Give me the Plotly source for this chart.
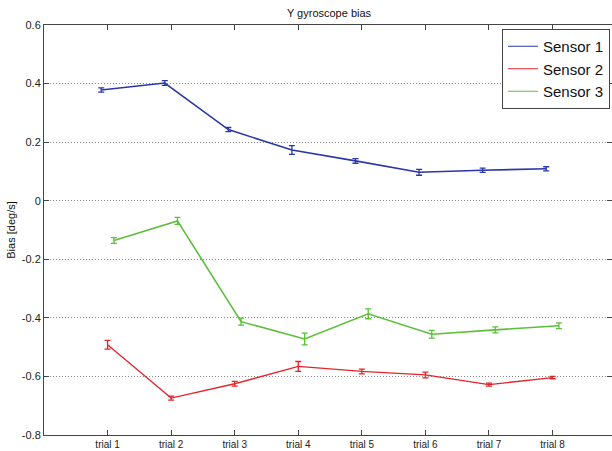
import plotly.graph_objects as go

trials = ["trial 1", "trial 2", "trial 3", "trial 4", "trial 5", "trial 6", "trial 7", "trial 8"]
trial_pos = [1, 2, 3, 4, 5, 6, 7, 8]

sensor1_bias = [0.378, 0.402, 0.243, 0.173, 0.136, 0.097, 0.104, 0.109]
sensor1_err = [0.007, 0.008, 0.007, 0.015, 0.008, 0.010, 0.007, 0.007]

sensor2_bias = [-0.492, -0.674, -0.625, -0.566, -0.583, -0.595, -0.628, -0.604]
sensor2_err = [0.015, 0.007, 0.008, 0.017, 0.008, 0.010, 0.005, 0.004]

sensor3_bias = [-0.136, -0.069, -0.413, -0.472, -0.386, -0.456, -0.441, -0.427]
sensor3_err = [0.010, 0.012, 0.012, 0.020, 0.017, 0.013, 0.010, 0.010]

# small horizontal shift so overlapping error bars stay readable
series = [
    ("Sensor 1", sensor1_bias, sensor1_err, "#2a37a6", -0.1, 1.6),
    ("Sensor 2", sensor2_bias, sensor2_err, "#e3242b", 0.0, 1.3),
    ("Sensor 3", sensor3_bias, sensor3_err, "#5cbf3a", 0.1, 1.6),
]

FONT = "Liberation Sans, Arial, sans-serif"

fig = go.Figure()
for name, vals, errs, color, shift, lw in series:
    fig.add_trace(go.Scatter(
        x=[p + shift for p in trial_pos],
        y=vals,
        mode="lines",
        name=name,
        showlegend=False,
        line=dict(color=color, width=lw),
        error_y=dict(type="data", array=errs, visible=True,
                     color=color, thickness=1.3, width=3),
    ))

# legend entries drawn with thin sample lines
for name, _, _, color, _, _ in series:
    fig.add_trace(go.Scatter(
        x=[None], y=[None], mode="lines", name=name,
        line=dict(color=color, width=1), showlegend=True,
    ))

fig.update_layout(
    width=612, height=451,
    margin=dict(l=44, r=0, t=25, b=16),
    paper_bgcolor="white",
    plot_bgcolor="white",
    font=dict(family=FONT, size=11, color="#222"),
    title=dict(text="Y gyroscope bias", x=329 / 612, xref="container", xanchor="center",
               y=1 - 13.5 / 451, yref="container", yanchor="middle",
               font=dict(family=FONT, size=11, color="#111")),
    showlegend=True,
    legend=dict(x=1 - 2 / 568, xanchor="right", y=1 - 4 / 410, yanchor="top",
                xref="paper", yref="paper",
                bgcolor="white", bordercolor="#444", borderwidth=1,
                font=dict(family=FONT, size=15, color="#111"),
                itemwidth=30, tracegroupgap=0),
)

fig.update_xaxes(
    range=[0, 568 / 63.57],
    tickmode="array", tickvals=trial_pos, ticktext=trials,
    ticks="inside", ticklen=5, tickcolor="#444",
    showline=True, linecolor="#444", linewidth=1, mirror="ticks",
    showgrid=False, zeroline=False,
    tickfont=dict(family=FONT, size=10, color="#222"),
)
fig.update_yaxes(
    range=[-0.8, 0.6],
    tickmode="array",
    tickvals=[-0.8, -0.6, -0.4, -0.2, 0, 0.2, 0.4, 0.6],
    ticktext=["-0.8", "-0.6", "-0.4", "-0.2", "0", "0.2", "0.4", "0.6"],
    ticks="inside", ticklen=5, tickcolor="#444",
    showline=True, linecolor="#444", linewidth=1, mirror="ticks",
    showgrid=True, gridcolor="#888", griddash="1px,2px", gridwidth=1,
    zeroline=False,
    title=dict(text="Bias [deg/s]", standoff=3,
               font=dict(family=FONT, size=11, color="#111")),
    tickfont=dict(family=FONT, size=11, color="#222"),
)

fig.write_html("out.html")
